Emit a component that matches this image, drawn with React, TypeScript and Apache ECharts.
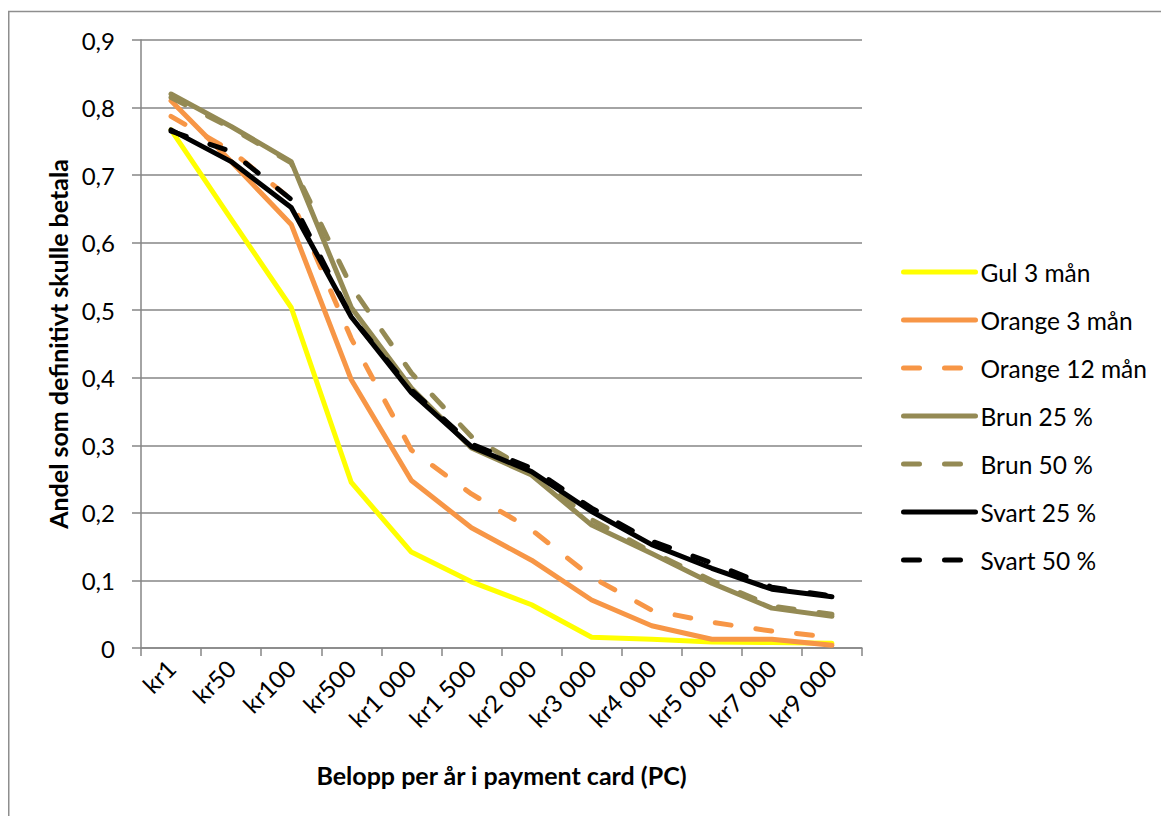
import React, { useEffect, useRef } from "react";
import * as echarts from "echarts";

const categories = ["kr1", "kr50", "kr100", "kr500", "kr1 000", "kr1 500", "kr2 000", "kr3 000", "kr4 000", "kr5 000", "kr7 000", "kr9 000"];
const gul3 = [0.767, 0.635, 0.504, 0.245, 0.142, 0.098, 0.064, 0.016, 0.013, 0.009, 0.008, 0.007];
const orange3 = [0.81, 0.72, 0.627, 0.397, 0.248, 0.178, 0.13, 0.071, 0.033, 0.013, 0.013, 0.004];
const orange12 = [0.787, 0.736, 0.664, 0.458, 0.293, 0.228, 0.175, 0.105, 0.056, 0.038, 0.025, 0.016];
const brun25 = [0.82, 0.772, 0.72, 0.504, 0.385, 0.296, 0.256, 0.182, 0.14, 0.096, 0.059, 0.047];
const brun50 = [0.815, 0.77, 0.718, 0.535, 0.407, 0.313, 0.26, 0.19, 0.142, 0.1, 0.062, 0.05];
const svart25 = [0.767, 0.72, 0.652, 0.49, 0.378, 0.298, 0.261, 0.202, 0.153, 0.118, 0.087, 0.076];
const svart50 = [0.765, 0.735, 0.664, 0.49, 0.382, 0.302, 0.266, 0.207, 0.158, 0.126, 0.09, 0.077];

const seriesNames = ["Gul 3 mån", "Orange 3 mån", "Orange 12 mån", "Brun 25 %", "Brun 50 %", "Svart 25 %", "Svart 50 %"];
const seriesData = [gul3, orange3, orange12, brun25, brun50, svart25, svart50];
const seriesColors = ["#FFFF00", "#F79646", "#F79646", "#948A54", "#948A54", "#000000", "#000000"];
const seriesDashed = [false, false, true, false, true, false, true];

const FONT = "Lato";

export default function App() {
  const ref = useRef<HTMLDivElement>(null);
  useEffect(() => {
    if (!ref.current) return;
    const chart = echarts.init(ref.current, undefined, { renderer: "svg" });
    chart.setOption({
      animation: false,
      backgroundColor: "#ffffff",
      textStyle: { fontFamily: FONT },
      graphic: [
        {
          type: "rect",
          shape: { x: 0.75, y: 3.5, width: 2000, height: 2000 },
          style: { fill: "none", stroke: "#8e8e8e", lineWidth: 1.5 },
          silent: true,
        },
      ],
      grid: { left: 133, top: 32, right: 307, bottom: 168, containLabel: false },
      legend: {
        orient: "vertical",
        left: 888,
        top: 246,
        itemWidth: 72,
        itemHeight: 14,
        itemGap: 22,
        itemStyle: { opacity: 0 },
        lineStyle: { width: 5, cap: "round" },
        textStyle: { fontFamily: FONT, fontSize: 24.5, color: "#000", lineHeight: 26 },
        data: seriesNames,
      },
      xAxis: {
        type: "category",
        data: categories,
        boundaryGap: true,
        axisLine: { lineStyle: { color: "#868686", width: 1.5 } },
        axisTick: { show: true, length: 8, interval: 0, lineStyle: { color: "#868686", width: 1.5 } },
        axisLabel: { rotate: 45, interval: 0, margin: 16, fontFamily: FONT, fontSize: 24, color: "#000" },
        name: "Belopp per år i payment card (PC)",
        nameLocation: "middle",
        nameGap: 114,
        nameTextStyle: { fontFamily: FONT, fontSize: 25, fontWeight: "bold", color: "#000" },
      },
      yAxis: {
        type: "value",
        min: 0,
        max: 0.9,
        interval: 0.1,
        axisLine: { show: true, lineStyle: { color: "#868686", width: 1.5 } },
        axisTick: { show: true, length: 9, lineStyle: { color: "#868686", width: 1.5 } },
        splitLine: { show: true, lineStyle: { color: "#868686", width: 1.5 } },
        axisLabel: {
          margin: 26,
          fontFamily: FONT,
          fontSize: 24,
          color: "#000",
          formatter: (v: number) => (Math.round(v * 10) / 10).toString().replace(".", ","),
        },
        name: "Andel som definitivt skulle betala",
        nameLocation: "middle",
        nameGap: 69,
        nameRotate: 90,
        nameTextStyle: { fontFamily: FONT, fontSize: 25, fontWeight: "bold", color: "#000" },
      },
      series: seriesNames.map((name, i) => ({
        name,
        type: "line",
        data: seriesData[i],
        symbol: "none",
        showSymbol: false,
        color: seriesColors[i],
        lineStyle: {
          color: seriesColors[i],
          width: 5,
          type: seriesDashed[i] ? [16, 25] : "solid",
          cap: "round",
          join: "round",
        },
        z: 2 + i,
      })),
    });
    return () => chart.dispose();
  }, []);
  return <div ref={ref} style={{ width: 1161, height: 808 }} />;
}
